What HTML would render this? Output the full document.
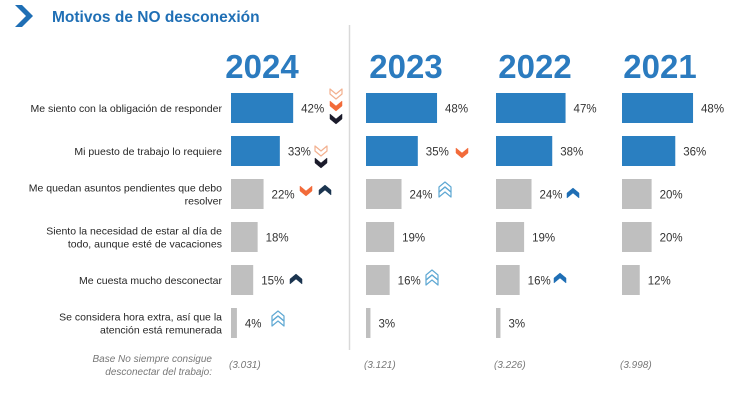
<!DOCTYPE html>
<html><head><meta charset="utf-8">
<style>
html,body{margin:0;padding:0;background:#fff;}
svg{display:block;font-family:"Liberation Sans",Arial,sans-serif;}
</style></head>
<body>
<svg id="chart" width="746" height="413" viewBox="0 0 746 413" xmlns="http://www.w3.org/2000/svg">
  <polygon points="15,5 22,5 33,16 22,27 15,27 26,16" fill="#1f6fb5"/>
  <text x="52" y="22" font-size="15.5" font-weight="bold" fill="#1f6fb5">Motivos de NO desconexión</text>
  <line x1="349.5" y1="25" x2="349.5" y2="350" stroke="#d9d9d9" stroke-width="1.5"/>
  <g id="labels"></g>
  <g id="bars"></g>
  <g id="arrows"></g>
  <text x="212" y="362" font-size="10" font-style="italic" fill="#777" text-anchor="end">Base No siempre consigue</text>
  <text x="212" y="375" font-size="10" font-style="italic" fill="#777" text-anchor="end">desconectar del trabajo:</text>
</svg>
<script>
const years = ["2024","2023","2022","2021"];
const categories = [
  ["Me siento con la obligación de responder"],
  ["Mi puesto de trabajo lo requiere"],
  ["Me quedan asuntos pendientes que debo","resolver"],
  ["Siento la necesidad de estar al día de","todo, aunque esté de vacaciones"],
  ["Me cuesta mucho desconectar"],
  ["Se considera hora extra, así que la","atención está remunerada"]
];
const values2024 = [42,33,22,18,15,4];
const values2023 = [48,35,24,19,16,3];
const values2022 = [47,38,24,19,16,3];
const values2021 = [48,36,20,20,12,null];
const bases = ["(3.031)","(3.121)","(3.226)","(3.998)"];

const NS = "http://www.w3.org/2000/svg";
const svg = document.getElementById('chart');
const panelX = [231,366,496,622];
const yearX = [262,406,535,660];
const pxPerPct = 1.48;
const xScale = (p,v) => panelX[p] + v*pxPerPct;
const rowY = i => 108 + i*43;
const barH = 30;
const allVals = [values2024, values2023, values2022, values2021];

function mk(tag, attrs, parent){
  const e = document.createElementNS(NS, tag);
  for (const k in attrs) e.setAttribute(k, attrs[k]);
  (parent||svg).appendChild(e);
  return e;
}

const gL = document.getElementById('labels');
categories.forEach((lines,i)=>{
  const cy = rowY(i);
  lines.forEach((ln,j)=>{
    const t = mk('text',{x:222, y: cy + 4 + (j - (lines.length-1)/2)*13, 'font-size':10.5, fill:'#262626','text-anchor':'end'}, gL);
    
    
    t.textContent = ln;
  });
});

const gB = document.getElementById('bars');
years.forEach((y,p)=>{
  const yt = mk('text',{x:yearX[p], y:78, 'font-size':33, 'font-weight':'bold', fill:'#2b7bbf','text-anchor':'middle'});
  
  
  yt.textContent = y;
  const bt = mk('text',{x:panelX[p]-2, y:368, 'font-size':10, 'font-style':'italic', fill:'#777'});
  
  
  bt.textContent = bases[p];
  allVals[p].forEach((v,i)=>{
    if (v === null || v === undefined) return;
    const x0 = xScale(p,0), x1 = xScale(p,v);
    const r = mk('rect',{x:x0, y:rowY(i)-barH/2, width:Math.max(1,x1-x0), height:barH, fill: i<2 ? '#2a7fc1' : '#bfbfbf'}, gB);
    
    
    const t = mk('text',{x:x1+8, y:rowY(i)+4.5, 'font-size':11.5, fill:'#333'}, gB);
    
    
    t.textContent = Math.round(v)+'%';
  });
});

const gA = document.getElementById('arrows');
function arrow(cx, cy, dir, style){
  const s = dir==='down' ? 1 : -1;
  const pts = [[-6,-4*s],[0,1*s],[6,-4*s],[6,1*s],[0,6*s],[-6,1*s]].map(q=>(cx+q[0])+','+(cy+q[1])).join(' ');
  const colors = {lo:['none','#f2b08f'], o:['#f26b3a','#f26b3a'], d:['#1b1b2b','#1b1b2b'], n:['#1b3550','#1b3550'], lb:['none','#5fa8d3'], b:['#1f6fb5','#1f6fb5']};
  const c = colors[style];
  const e = mk('polygon',{points:pts, fill:c[0], stroke:c[1], 'stroke-width': c[0]==='none'?1.2:0.5, 'stroke-linejoin':'round'}, gA);
  
  
}
arrow(336,93,'down','lo'); arrow(336,105,'down','o'); arrow(336,118,'down','d');
arrow(321,150,'down','lo'); arrow(321,162,'down','d');
arrow(306,190,'down','o'); arrow(325,191,'up','n');
arrow(296,280,'up','n');
arrow(278,322,'up','lb'); arrow(278,317,'up','lb');
arrow(462,152,'down','o');
arrow(445,193,'up','lb'); arrow(445,188,'up','lb');
arrow(432,281,'up','lb'); arrow(432,276,'up','lb');
arrow(573,194,'up','b');
arrow(560,279,'up','b');
</script>
</body></html>
